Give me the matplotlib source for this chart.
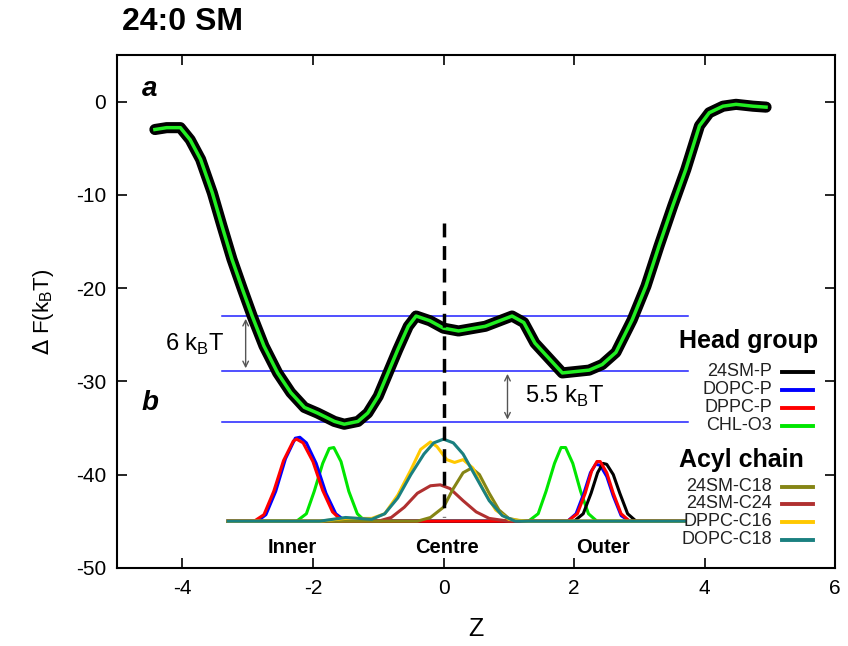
import numpy as np
import matplotlib.pyplot as plt
from matplotlib.lines import Line2D

plt.rcParams['font.family'] = ['Liberation Sans', 'DejaVu Sans']
plt.rcParams['axes.unicode_minus'] = False

# free energy profile (Z, dF in kBT)
z_fe = [-4.42, -4.24, -4.03, -3.88, -3.72, -3.54, -3.39, -3.24, -3.08, -2.93, -2.75,
        -2.54, -2.34, -2.13, -1.93, -1.67, -1.52, -1.31, -1.16, -1.00, -0.85, -0.70,
        -0.54, -0.42, -0.21, 0.0, 0.23, 0.64, 1.05, 1.23, 1.40, 1.61, 1.82, 2.23,
        2.43, 2.64, 2.89, 3.10, 3.30, 3.51, 3.71, 3.92, 4.07, 4.28, 4.48, 4.74, 4.94]
f_fe = [-3.0, -2.8, -2.8, -4.1, -6.2, -9.8, -13.4, -16.9, -20.1, -23.0, -26.2,
        -29.1, -31.2, -32.8, -33.4, -34.3, -34.6, -34.3, -33.4, -31.6, -29.1, -26.6,
        -24.1, -23.0, -23.5, -24.3, -24.6, -24.1, -23.0, -23.7, -25.9, -27.5, -29.1, -28.8,
        -28.2, -26.9, -23.4, -19.8, -15.5, -11.2, -7.3, -2.6, -1.2, -0.5, -0.3, -0.5, -0.6]

# density profiles, drawn on the same axes (baseline at -45)
z_dopc_p = [-3.30, -2.85, -2.72, -2.57, -2.42, -2.27, -2.20, -2.10, -1.95, -1.80, -1.65, -1.50,
            1.90, 2.03, 2.15, 2.25, 2.33, 2.40, 2.50, 2.60, 2.72, 2.85, 3.70]
d_dopc_p = [-45, -45, -44.3, -41.8, -38.3, -36.1, -36.0, -36.6, -38.8, -42.0, -44.2, -45,
            -45, -44.2, -42.0, -39.8, -38.9, -39.0, -40.2, -42.3, -44.4, -45, -45]
z_dppc_p = [-3.30, -2.90, -2.75, -2.60, -2.45, -2.30, -2.25, -2.15, -2.00, -1.85, -1.70, -1.55,
            1.90, 2.05, 2.17, 2.27, 2.35, 2.40, 2.50, 2.60, 2.72, 2.85, 3.70]
d_dppc_p = [-45, -45, -44.3, -41.8, -38.5, -36.4, -36.2, -36.6, -38.6, -41.7, -44.0, -45,
            -45, -44.2, -42.0, -39.6, -38.6, -38.6, -39.8, -42.0, -44.2, -45, -45]
z_sm_p = [-3.30, 2.00, 2.14, 2.26, 2.36, 2.44, 2.50, 2.60, 2.70, 2.82, 2.95, 3.70]
d_sm_p = [-45, -45, -44.2, -42.0, -39.8, -38.8, -38.9, -40.0, -42.0, -44.2, -45, -45]
z_chl = [-3.30, -2.25, -2.10, -1.98, -1.85, -1.75, -1.68, -1.57, -1.45, -1.32, -1.20,
         1.30, 1.45, 1.57, 1.70, 1.80, 1.87, 1.98, 2.10, 2.22, 2.35, 3.70]
d_chl = [-45, -45, -44.2, -41.8, -38.8, -37.2, -37.1, -38.6, -41.8, -44.2, -45,
         -45, -44.2, -41.8, -38.8, -37.1, -37.1, -38.8, -41.8, -44.2, -45, -45]
z_sm18 = [-3.30, -0.40, -0.20, 0.00, 0.15, 0.30, 0.43, 0.55, 0.70, 0.85, 1.00, 1.20, 3.70]
d_sm18 = [-45, -45, -44.6, -43.5, -41.5, -39.8, -39.3, -40.0, -42.0, -43.8, -44.7, -45, -45]
z_sm24 = [-3.30, -1.00, -0.80, -0.60, -0.40, -0.20, -0.05, 0.10, 0.30, 0.50, 0.70, 1.00, 3.70]
d_sm24 = [-45, -45, -44.6, -43.5, -42.0, -41.2, -41.1, -41.5, -42.8, -44.0, -44.7, -45, -45]
z_dppc16 = [-3.30, -1.90, -1.50, -1.10, -0.90, -0.70, -0.50, -0.35, -0.20, -0.10, 0.05,
            0.17, 0.30, 0.45, 0.60, 0.80, 1.00, 1.30, 3.70]
d_dppc16 = [-45, -45, -44.7, -44.7, -44.2, -42.2, -39.5, -37.3, -36.5, -37.0, -38.4,
            -38.7, -38.4, -39.3, -41.5, -43.8, -44.8, -45, -45]
z_dopc18 = [-3.30, -1.90, -1.50, -1.10, -0.90, -0.70, -0.50, -0.30, -0.15, 0.00, 0.15,
            0.30, 0.50, 0.70, 0.90, 1.10, 3.70]
d_dopc18 = [-45, -45, -44.6, -44.8, -44.2, -42.5, -40.0, -37.8, -36.6, -36.2, -36.6,
            -37.8, -40.3, -42.8, -44.4, -45, -45]

head_names = ['24SM-P', 'DOPC-P', 'DPPC-P', 'CHL-O3']
head_colors = ['black', '#0000ff', '#ff0000', '#00e600']
acyl_names = ['24SM-C18', '24SM-C24', 'DPPC-C16', 'DOPC-C18']
acyl_colors = ['#858515', '#b03030', '#ffc800', '#1a8080']

levels = [-23.0, -28.9, -34.4]

fig = plt.figure(figsize=(8.48, 6.46), dpi=100)
ax = fig.add_axes([0.138, 0.121, 0.847, 0.794])

# density profiles
ax.plot(z_chl, d_chl, color=head_colors[3], lw=2.2)
ax.plot(z_dopc_p, d_dopc_p, color=head_colors[1], lw=2.2)
ax.plot(z_sm_p, d_sm_p, color=head_colors[0], lw=2.2)
ax.plot(z_dppc_p, d_dppc_p, color=head_colors[2], lw=2.2)
ax.plot(z_sm24, d_sm24, color=acyl_colors[1], lw=2.2)
ax.plot(z_sm18, d_sm18, color=acyl_colors[0], lw=2.2)
ax.plot(z_dppc16, d_dppc16, color=acyl_colors[2], lw=2.2)
ax.plot(z_dopc18, d_dopc18, color=acyl_colors[3], lw=2.2)

# levels
for lv in levels:
    ax.plot([-3.39, 3.74], [lv, lv], color='#2020ff', lw=1.1, zorder=3)

# free energy (black band = error bars, green = mean)
ax.plot(z_fe, f_fe, color='black', lw=8, solid_joinstyle='round',
        solid_capstyle='round', zorder=4)
ax.plot(z_fe, f_fe, color='#22ee22', lw=2.5, solid_joinstyle='round', zorder=5)

ax.plot([0, 0], [-13, -44.6], color='black', lw=2.5, ls=(0, (4, 2.5)), zorder=6)

# arrows and energy labels
ax.annotate('', xy=(-3.03, levels[0]), xytext=(-3.03, levels[1]),
            arrowprops=dict(arrowstyle='<->', color='#555555', lw=1), zorder=7)
ax.annotate('', xy=(0.98, levels[1]), xytext=(0.98, levels[2]),
            arrowprops=dict(arrowstyle='<->', color='#555555', lw=1), zorder=7)
ax.text(-4.27, -26.0, r'6 k$_\mathregular{B}$T', fontsize=17, va='center', ha='left')
ax.text(1.25, -31.6, r'5.5 k$_\mathregular{B}$T', fontsize=17, va='center', ha='left')

ax.text(-4.5, 1.3, 'a', fontsize=20, fontweight='bold', style='italic', ha='center', va='center')
ax.text(-4.5, -32.3, 'b', fontsize=20, fontweight='bold', style='italic', ha='center', va='center')

for lab, zx in zip(['Inner', 'Centre', 'Outer'], [-2.32, 0.05, 2.45]):
    ax.text(zx, -47.8, lab, fontsize=14.5, fontweight='bold', ha='center', va='center')

# legend
ax.text(0.783, 0.442, 'Head group', transform=ax.transAxes, fontsize=18,
        fontweight='bold', va='center', ha='left')
ax.text(0.783, 0.211, 'Acyl chain', transform=ax.transAxes, fontsize=18,
        fontweight='bold', va='center', ha='left')
rows_h = [0.382, 0.347, 0.312, 0.277]
rows_a = [0.158, 0.125, 0.090, 0.055]
for names, cols, rows in [(head_names, head_colors, rows_h), (acyl_names, acyl_colors, rows_a)]:
    for n, c, r in zip(names, cols, rows):
        ax.text(0.912, r, n, transform=ax.transAxes, fontsize=13, color='#222222',
                ha='right', va='center')
        ax.add_line(Line2D([0.926, 0.969], [r, r], transform=ax.transAxes, color=c, lw=2.8))

ax.set_xlim(-5, 6)
ax.set_ylim(-50, 5)
ax.set_xticks([-4, -2, 0, 2, 4, 6])
ax.set_yticks([0, -10, -20, -30, -40, -50])
ax.tick_params(direction='in', length=7, width=1.2, top=True, right=True, labelsize=15, pad=8)
for s in ax.spines.values():
    s.set_linewidth(1.5)
ax.set_xlabel('Z', fontsize=18, labelpad=14)
ax.set_ylabel(r'$\Delta$ F(k$_\mathregular{B}$T)', fontsize=16, labelpad=14)

fig.text(0.144, 0.966, '24:0 SM', fontsize=23, fontweight='bold', va='center', ha='left')

fig.savefig('out.png', dpi=100)
